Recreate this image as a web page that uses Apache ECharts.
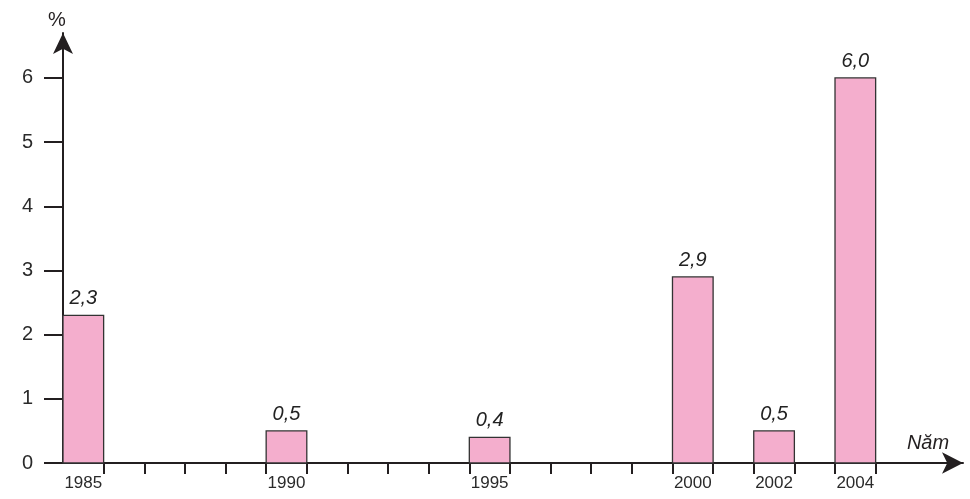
<!DOCTYPE html>
<html>
<head>
<meta charset="utf-8">
<script src="https://cdn.jsdelivr.net/npm/echarts@6/dist/echarts.min.js"></script>
<style>
html,body{margin:0;padding:0;background:#fff;}
#chart{width:970px;height:499px;}
</style>
</head>
<body>
<div id="chart"></div>
<script>
// Data
var years = [1985, 1990, 1995, 2000, 2002, 2004];
var values = [2.3, 0.5, 0.4, 2.9, 0.5, 6.0];
var yTicks = [0, 1, 2, 3, 4, 5, 6];
var xTickYears = [1986, 1987, 1988, 1989, 1990, 1991, 1992, 1993, 1994, 1995,
                  1996, 1997, 1998, 1999, 2000, 2001, 2002, 2003, 2004, 2005];
var xAxisName = 'Năm';
var yAxisName = '%';

var ink = '#231f20';
var barFill = '#f4aecd';

var chart = echarts.init(document.getElementById('chart'));

var barData = years.map(function (y, i) { return [y, values[i]]; });
var labelPositions = years.map(function (y) { return y + 0.5; });

chart.setOption({
  animation: false,
  backgroundColor: '#fff',
  grid: { left: 45, right: 7, top: 33, bottom: 36, containLabel: false },
  xAxis: {
    type: 'value',
    min: 1984.557,
    max: 2007.15,
    name: xAxisName,
    nameLocation: 'end',
    nameGap: -35,
    nameTextStyle: {
      fontFamily: 'Liberation Sans', fontStyle: 'italic', fontSize: 20, color: ink,
      align: 'center', verticalAlign: 'bottom', padding: [0, 0, 10, 0]
    },
    splitLine: { show: false },
    axisLine: {
      show: true, onZero: false,
      lineStyle: { color: ink, width: 2 },
      symbol: ['none', 'arrow'], symbolSize: [16, 21]
    },
    axisTick: {
      show: true, inside: false, length: 11,
      customValues: xTickYears,
      lineStyle: { color: ink, width: 2 }
    },
    axisLabel: {
      show: true,
      customValues: labelPositions,
      formatter: function (v) { return String(Math.floor(v)); },
      margin: 12,
      fontFamily: 'Liberation Sans Narrow, Liberation Sans', fontSize: 17, color: '#2a2a2a'
    }
  },
  yAxis: {
    type: 'value',
    min: 0,
    max: 6.7,
    offset: -18,
    name: yAxisName,
    nameLocation: 'end',
    nameGap: 3,
    nameTextStyle: {
      fontFamily: 'Liberation Sans', fontSize: 20, color: ink, padding: [0, 12, 0, 0]
    },
    splitLine: { show: false },
    axisLine: {
      show: true, onZero: false,
      lineStyle: { color: ink, width: 2 },
      symbol: ['none', 'arrow'], symbolSize: [15, 21]
    },
    axisTick: {
      show: true, inside: false, length: 19,
      customValues: yTicks,
      lineStyle: { color: ink, width: 2 }
    },
    axisLabel: {
      show: true,
      customValues: yTicks,
      margin: 30,
      fontFamily: 'Liberation Sans', fontSize: 20, color: '#2a2a2a'
    }
  },
  series: [{
    type: 'custom',
    data: barData,
    encode: { x: 0, y: 1 },
    renderItem: function (params, api) {
      var yr = api.value(0);
      var v = api.value(1);
      var p0 = api.coord([yr, 0]);
      var p1 = api.coord([yr + 1, v]);
      return {
        type: 'rect',
        shape: { x: p0[0], y: p1[1], width: p1[0] - p0[0], height: p0[1] - p1[1] },
        style: { fill: barFill, stroke: '#333', lineWidth: 1.3 },
        textContent: {
          style: {
            text: v.toFixed(1).replace('.', ','),
            fontFamily: 'Liberation Sans', fontStyle: 'italic', fontSize: 20, fill: '#222'
          }
        },
        textConfig: { position: 'top', distance: 6 }
      };
    }
  }]
});
</script>
</body>
</html>
